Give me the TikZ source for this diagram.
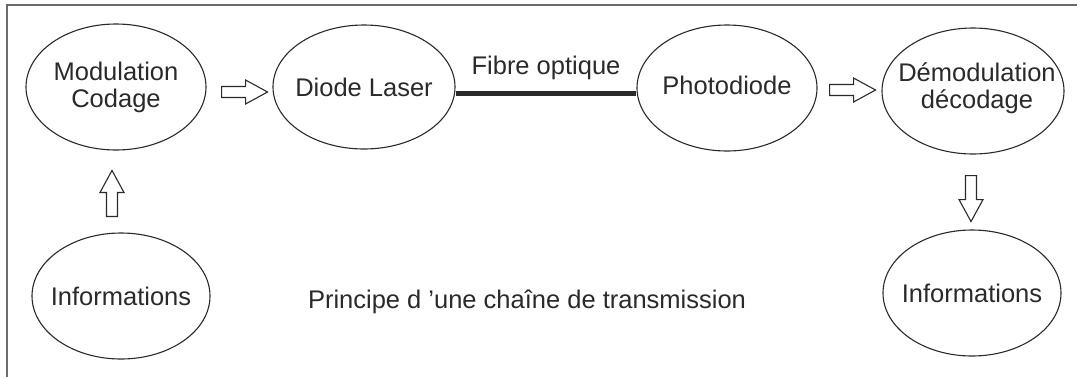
\documentclass[tikz,border=0pt]{standalone}
\usepackage{fontspec}
\setmainfont{Liberation Sans}
\usetikzlibrary{shapes.geometric,calc}
\definecolor{ink}{HTML}{2A2A2A}
\definecolor{framegray}{HTML}{6A6A6A}
\tikzset{
  bubble/.style={ellipse, draw=ink, line width=1.1pt, inner sep=0pt},
  txt/.style={text=ink, align=center, font=\fontsize{25.5}{27}\selectfont},
  blockarrow/.style={draw=ink, line width=1.1pt, fill=white, line join=miter},
  fibre/.style={draw=ink, line width=5pt},
  frameline/.style={draw=framegray, line width=2.2pt},
  hollow/.pic={
    \path[blockarrow] (0,-5.5) -- (24,-5.5) -- (24,-12) -- (46,0)
      -- (24,12) -- (24,5.5) -- (0,5.5) -- cycle;
  }
}
\begin{document}
\begin{tikzpicture}[x=1pt, y=-1pt]
  \useasboundingbox (0,0) rectangle (1077,376);
  \begin{scope}
    \clip (0,0) rectangle (1077,376);
    \draw[frameline] (7,400) -- (7,5) -- (1100,5);
  \end{scope}

  % transmission chain
  \node[bubble, minimum width=180pt, minimum height=126pt] (mod)   at (116,87) {};
  \node[bubble, minimum width=182pt, minimum height=124pt] (laser) at (364,87) {};
  \node[bubble, minimum width=180pt, minimum height=126pt] (photo) at (727,88) {};
  \node[bubble, minimum width=182pt, minimum height=126pt] (demod) at (973,91) {};
  \node[bubble, minimum width=178pt, minimum height=126pt] (infoL) at (121,296) {};
  \node[bubble, minimum width=178pt, minimum height=126pt] (infoR) at (972,293) {};

  \node[txt] at (mod)   {Modulation\\Codage};
  \node[txt] at (laser) {Diode Laser};
  \node[txt] at ([yshift=3pt]photo.center) {Photodiode};
  \node[txt] at ([xshift=4pt,yshift=3pt]demod.center) {Démodulation\\décodage};
  \node[txt] at (infoL) {Informations};
  \node[txt] at (infoR) {Informations};

  % optical fibre
  \draw[fibre] (laser.east |- 0,93) coordinate (f1) -- (photo.west |- 0,93) coordinate (f2);
  \node[txt] (fibrelbl) at ($(f1)!0.5!(f2) + (0,-25)$) {Fibre optique};

  % hollow arrows between stages
  \coordinate (a1) at ($(mod.east)+(15,5)$);
  \coordinate (a2) at ($(photo.east)+(12,2)$);
  \coordinate (a3) at ($(demod.south)+(-2,21)$);
  \coordinate (a4) at ($(infoL.north)+(-9,-16)$);
  \pic at (a1) {hollow};
  \pic at (a2) {hollow};
  \pic[rotate=-90] at (a3) {hollow};
  \pic[rotate=90] at (a4) {hollow};

  \node[txt] (title) at (527,302) {Principe d ’une chaîne de transmission};
\end{tikzpicture}
\end{document}
